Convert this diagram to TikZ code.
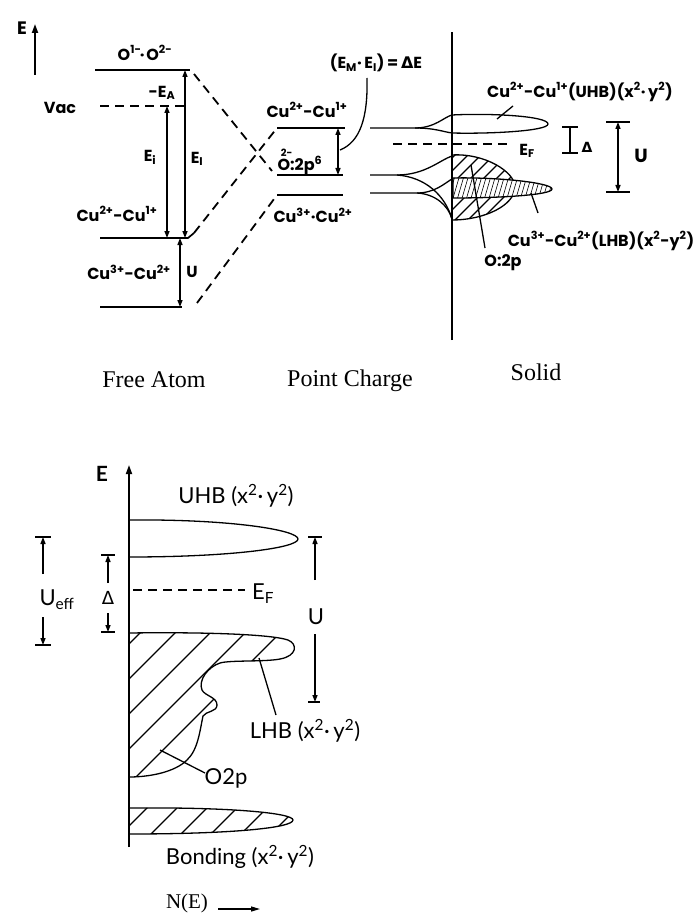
\documentclass[tikz,border=0pt]{standalone}
\usepackage{fontspec}
\setmainfont{Liberation Serif}
\newfontfamily\fa{Poppins}
\newfontfamily\fb{Lato}
\newfontfamily\fs{DejaVu Sans}
\usetikzlibrary{arrows.meta}
\tikzset{
  lvl/.style={line width=1.7pt},
  dsh/.style={line width=1.8pt, dash pattern=on 9pt off 6pt},
  thin/.style={line width=1.3pt},
  tip/.style={-{Triangle[length=7pt,width=5pt]}},
  dbl/.style={line width=1.4pt,{Triangle[length=7pt,width=5pt]}-{Triangle[length=7pt,width=5pt]}},
  ta/.style={font=\fa\bfseries\fontsize{16}{16}\selectfont, inner sep=0pt},
  tb/.style={font=\fb\fontsize{22}{22}\selectfont, inner sep=0pt},
  ts/.style={font=\fontsize{24}{24}\selectfont, inner sep=0pt, anchor=base},
  hatch/.style={line width=1.3pt},
}
\def\pathLHB{(129,633) .. controls (200,632) and (270,634) .. (288,640) .. controls (298,644) and (297,656) .. (280,659) .. controls (265,662) and (230,660) .. (220,663) .. controls (208,667) and (198,680) .. (202,690) .. controls (205,696) and (217,697) .. (217,705) .. controls (217,712) and (206,711) .. (203,716) .. controls (200,730) and (198,750) .. (187,760) .. controls (175,772) and (150,777) .. (129,777) -- cycle}
\def\pathBond{(129,808) .. controls (230,807) and (293,813) .. (293,820) .. controls (293,828) and (230,834) .. (129,834) -- cycle}
\def\pathOtp{(452,155) .. controls (485,153) and (515,172) .. (515,187) .. controls (515,205) and (485,220) .. (452,220) -- cycle}
\def\pathLtop{(453,178) .. controls (500,177) and (552,183) .. (552,189) .. controls (552,195) and (500,198) .. (453,198) -- cycle}
\begin{document}
\begin{tikzpicture}[x=1pt,y=-1pt]
\useasboundingbox (0,0) rectangle (696,920);
% ---------- Free atom ----------
\node[ta,font=\fa\bfseries\fontsize{18}{18}\selectfont] (Elab) at (22,28) {E};
\coordinate (Eb) at (35,75); \coordinate (Et) at (35,24);
\draw[line width=1.8pt,-{Triangle[length=9pt,width=6pt]}] (Eb) -- (Et);
\coordinate (Oa) at (95,70); \coordinate (Ob) at (190,70);
\draw[lvl] (Oa) -- (Ob);
\node[ta] (Olab) at (145,53) {O\textsuperscript{1-}\kern-0.1em·\kern0.1emO\textsuperscript{2-}};
\node[ta] (Vac) at (60,108) {Vac};
\coordinate (Va) at (100,106); \coordinate (Vb) at (188,106);
\draw[dsh] (Va) -- (Vb);
\node[ta] (EA) at (162,93) {-E\textsubscript{A}};
\coordinate (Ca) at (100,238); \coordinate (Cb) at (188,238); \coordinate (Cc) at (194,233);
\draw[lvl] (Ca) -- (Cb) -- (Cc);
\coordinate (Da) at (100,307); \coordinate (Db) at (182,307); \coordinate (Dc) at (197,303);
\draw[lvl] (Da) -- (Db);
\coordinate (Eit) at (167,106); \coordinate (Eib) at (167,238);
\draw[dbl] (Eib) -- (Eit);
\coordinate (EIt) at (185,70); \coordinate (EIb) at (185,238);
\draw[dbl] (EIb) -- (EIt);
\coordinate (Ut) at (180,238); \coordinate (Ub) at (180,307);
\draw[dbl] (Ub) -- (Ut);
\node[ta] (Ei) at (150,157) {E\textsubscript{i}};
\node[ta] (EI) at (197,159) {E\textsubscript{I}};
\node[ta] (Ulab) at (192,272) {U};
\node[ta] (Cu21) at (117,214) {Cu\textsuperscript{2+}-Cu\textsuperscript{1+}};
\node[ta] (Cu32) at (129,272) {Cu\textsuperscript{3+}-Cu\textsuperscript{2+}};
% ---------- Point charge ----------
\coordinate (Pa) at (277,128); \coordinate (Pb) at (345,128);
\coordinate (Qa) at (277,175); \coordinate (Qb) at (343,175);
\coordinate (Ra) at (277,195); \coordinate (Rb) at (343,195);
\draw[lvl] (Pa) -- (Pb);
\draw[lvl] (Qa) -- (Qb);
\draw[lvl] (Ra) -- (Rb);
\coordinate (Qd) at (272,171); \coordinate (Ob2) at (194,74);
\draw[dsh] (Ob2) -- (Qd);
\draw[dsh] (Cc) -- (Pa);
\draw[dsh] (Dc) -- (Ra);
\coordinate (PQt) at (338,128); \coordinate (PQb) at (338,175);
\draw[dbl] (PQb) -- (PQt);
\node[ta] (PCu21) at (307,110) {Cu\textsuperscript{2+}-Cu\textsuperscript{1+}};
\node[ta] (PO) at (300,162) {\rlap{\kern0.2em\raisebox{0.85em}{\fontsize{10}{10}\selectfont 2-}}O:2p\textsuperscript{6}};
\node[ta] (PCu32) at (313,215) {Cu\textsuperscript{3+}·Cu\textsuperscript{2+}};
\node[ta] (dE) at (376,63) {(E\textsubscript{M}·\,E\textsubscript{I})\,=\,{\fs Δ}E};
\coordinate (L1) at (367,78); \coordinate (L2) at (340,150);
\draw[thin] (L1) .. controls (368,118) and (360,142) .. (L2);
% ---------- Solid ----------
\coordinate (Sb) at (452,340); \coordinate (St) at (452,32);
\draw[lvl] (Sb) -- (St);
% UHB
\coordinate (U0) at (370,128); \coordinate (U1) at (415,128);
\coordinate (Uu) at (452,115); \coordinate (Ud) at (452,133); \coordinate (Ut2) at (548,124);
\draw[thin] (U0) -- (U1) .. controls (435,128) and (444,117) .. (Uu);
\draw[thin] (U1) .. controls (435,128) and (444,132) .. (Ud);
\draw[thin] (Uu) .. controls (490,113) and (548,116) .. (Ut2) .. controls (548,131) and (490,134) .. (Ud);
% E_F
\coordinate (Fa) at (393,144); \coordinate (Fb) at (510,144);
\draw[dsh] (Fa) -- (Fb);
\node[ta] (EF) at (527,151) {E\textsubscript{F}};
% Delta bracket
\coordinate (Dt1) at (570,127); \coordinate (Db1) at (570,153);
\draw[lvl] (Dt1) -- (Db1);
\draw[lvl] ([xshift=-8pt]Dt1) -- ([xshift=8pt]Dt1);
\draw[lvl] ([xshift=-8pt]Db1) -- ([xshift=8pt]Db1);
\node[ta,font=\fs\bfseries\fontsize{14}{14}\selectfont] (Dl) at (587,147) {Δ};
% U bracket
\coordinate (Ut1) at (618,122); \coordinate (Ub1) at (618,192);
\draw[dbl] (Ub1) -- (Ut1);
\draw[lvl] ([xshift=-12pt]Ut1) -- ([xshift=12pt]Ut1);
\draw[lvl] ([xshift=-12pt]Ub1) -- ([xshift=12pt]Ub1);
\node[ta,font=\fa\bfseries\fontsize{19}{19}\selectfont] (Ul2) at (641,156) {U};
% lower left flares
\coordinate (V0) at (370,175); \coordinate (V1) at (397,175);
\coordinate (Vu) at (452,156); \coordinate (Vc) at (452,219);
\draw[thin] (V0) -- (V1) .. controls (425,175) and (440,160) .. (Vu);
\draw[thin] (V1) .. controls (425,177) and (445,195) .. (Vc);
\coordinate (W0) at (370,193); \coordinate (W1) at (417,193); \coordinate (Wu) at (452,179);
\draw[thin] (W0) -- (W1) .. controls (435,193) and (445,183) .. (Wu);
\draw[thin] (W1) .. controls (435,194) and (448,205) .. (Vc);
% hatched O2p region
\begin{scope}
  \clip \pathOtp;
  \foreach \k in {-2,...,12} \draw[line width=1.1pt] (\k*13+380,230) -- ++(90,-90);
\end{scope}
\draw[thin] \pathOtp;
% LHB lobe
\fill[white] \pathLtop;
\begin{scope}
  \clip \pathLtop;
  \foreach \k in {0,...,26} \draw[line width=0.6pt] (\k*4.5+448,200) -- ++(7,-24);
\end{scope}
\draw[thin] \pathLtop;
% leaders and labels
\coordinate (Ul1) at (497,119); \coordinate (Ul2b) at (513,106);
\draw[thin] (Ul1) -- (Ul2b);
\node[ta] (UHBt) at (580,92) {Cu\textsuperscript{2+}-Cu\textsuperscript{1+}(UHB)(x\textsuperscript{2}·\,y\textsuperscript{2})};
\coordinate (Ol1) at (485,248); \coordinate (Ol2) at (471,165);
\draw[thin] (Ol1) -- (Ol2);
\node[ta] (O2pt) at (503,263) {O:2p};
\coordinate (Ll1) at (538,213); \coordinate (Ll2) at (531,193);
\draw[thin] (Ll1) -- (Ll2);
\node[ta] (LHBt) at (601,241) {Cu\textsuperscript{3+}-Cu\textsuperscript{2+}(LHB)(x\textsuperscript{2}-y\textsuperscript{2})};
% captions
\node[ts] (FA) at (154,387) {Free Atom};
\node[ts] (PC) at (350,386) {Point Charge};
\node[ts] (SO) at (536,380) {Solid};
% ---------- Lower figure ----------
\coordinate (Ab) at (129,847); \coordinate (At) at (129,465);
\draw[lvl,-{Triangle[length=9pt,width=6pt]}] (Ab) -- (At);
\node[tb,font=\fb\bfseries\fontsize{21}{21}\selectfont] (E2) at (102,474) {E};
\node[tb] (UHB2) at (236,496) {UHB (x\textsuperscript{2}·\,y\textsuperscript{2})};
\coordinate (H1) at (129,520); \coordinate (H2) at (298,539); \coordinate (H3) at (129,557);
\draw[thin] (H1) .. controls (230,519) and (298,530) .. (H2) .. controls (298,548) and (230,557) .. (H3);
% Ueff bracket
\coordinate (Ue1) at (43,537); \coordinate (Ue2) at (43,574); \coordinate (Ue3) at (43,617); \coordinate (Ue4) at (43,645);
\draw[thin] ([xshift=-8pt]Ue1) -- ([xshift=8pt]Ue1);
\draw[thin] ([xshift=-8pt]Ue4) -- ([xshift=8pt]Ue4);
\draw[thin,tip] (Ue2) -- (Ue1);
\draw[thin,tip] (Ue3) -- (Ue4);
\node[tb] (Ueff) at (57,600) {U\textsubscript{eff}};
% Delta bracket
\coordinate (De1) at (108,555); \coordinate (De2) at (108,583); \coordinate (De3) at (108,613); \coordinate (De4) at (108,632);
\draw[thin] ([xshift=-7pt]De1) -- ([xshift=7pt]De1);
\draw[thin] ([xshift=-7pt]De4) -- ([xshift=7pt]De4);
\draw[thin,tip] (De2) -- (De1);
\draw[thin,tip] (De3) -- (De4);
\node[tb,font=\fs\fontsize{18}{18}\selectfont] (Dl2) at (108,598) {Δ};
% E_F
\coordinate (F2a) at (133,590); \coordinate (F2b) at (245,590);
\draw[thin,dash pattern=on 9pt off 6pt] (F2a) -- (F2b);
\node[tb] (EF2) at (263,594) {E\textsubscript{F}};
% U bracket
\coordinate (Uu1) at (315,537); \coordinate (Uu2) at (315,580); \coordinate (Uu3) at (315,634); \coordinate (Uu4) at (315,702);
\draw[thin] ([xshift=-7pt]Uu1) -- ([xshift=7pt]Uu1);
\draw[thin] ([xshift=-7pt]Uu4) -- ([xshift=5pt]Uu4);
\draw[thin,tip] (Uu2) -- (Uu1);
\draw[thin,tip] (Uu3) -- (Uu4);
\node[tb] (U3) at (316,617) {U};
% LHB region
\begin{scope}
  \clip \pathLHB;
  \foreach \k in {-2,...,12} \draw[hatch] (\k*35-17,790) -- ++(220,-220);
\end{scope}
\draw[thin] \pathLHB;
\coordinate (LH1) at (259,658); \coordinate (LH2) at (276,715);
\draw[thin] (LH1) -- (LH2);
\node[tb] (LHB2) at (305,731) {LHB (x\textsuperscript{2}·\,y\textsuperscript{2})};
\coordinate (OP1) at (205,773); \coordinate (OP2) at (160,750);
\draw[thin] (OP1) -- (OP2);
\node[tb] (O2p2) at (226,778) {O2p};
% bonding
\begin{scope}
  \clip \pathBond;
  \foreach \k in {-2,...,8} \draw[hatch] (\k*30+115,840) -- ++(80,-80);
\end{scope}
\draw[thin] \pathBond;
\node[tb] (Bond) at (240,857) {Bonding (x\textsuperscript{2}·\,y\textsuperscript{2})};
\node[font=\fontsize{21}{21}\selectfont, inner sep=0pt] (NE) at (187,903) {N(E)};
\coordinate (NA1) at (218,909); \coordinate (NA2) at (260,909);
\draw[thin,-{Triangle[length=9pt,width=5pt]}] (NA1) -- (NA2);
\end{tikzpicture}
\end{document}
